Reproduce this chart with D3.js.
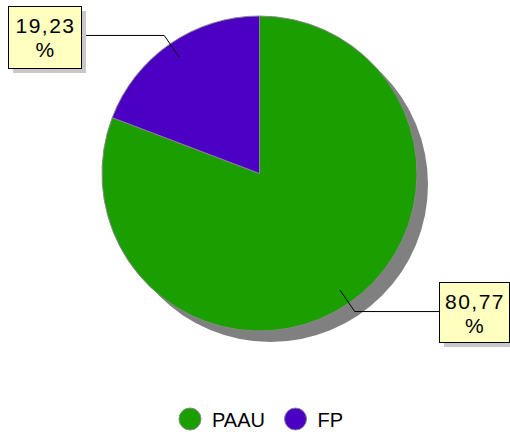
<!DOCTYPE html>
<html>
<head>
<meta charset="utf-8">
<script src="https://cdn.jsdelivr.net/npm/d3@7"></script>
<style>
  body { margin: 0; background: #fff; }
  text { font-family: "Liberation Sans", Arial, sans-serif; fill: #000; }
</style>
</head>
<body>
<script>
// Data
var categories = ["PAAU", "FP"];
var values = [80.77, 19.23];
var labels = ["80,77", "19,23"];
var colors = ["#1a9e00", "#4c00c4"];

// Settings
var w = 510, h = 434;
var cx = 259.5, cy = 173.5, r = 157.5;

var svg = d3.select("body").append("svg")
    .attr("width", w)
    .attr("height", h);

var pie = d3.pie().sort(null).value(function(d) { return d; });
var arcs = pie(values);
// green starts at 12 o'clock clockwise, purple closes the circle
var arc = d3.arc().innerRadius(0).outerRadius(r);

// shadow
svg.append("circle")
    .attr("cx", cx + 11)
    .attr("cy", cy + 11)
    .attr("r", r)
    .attr("fill", "#808080");

var g = svg.append("g").attr("transform", "translate(" + cx + "," + cy + ")");

g.selectAll("path.slice")
    .data(arcs)
    .enter()
    .append("path")
    .attr("class", "slice")
    .attr("d", arc)
    .attr("fill", function(d, i) { return colors[i]; })
    .attr("stroke", "#888")
    .attr("stroke-width", 1);

// labels with leader lines
var boxes = [
  { x: 439, y: 282, w: 70, h: 60 },  // 80,77
  { x: 8, y: 6, w: 73, h: 62 }       // 19,23
];

arcs.forEach(function(d, i) {
  var a = (d.startAngle + d.endAngle) / 2;
  var p0 = [Math.sin(a) * r * 0.9, -Math.cos(a) * r * 0.9];
  var p1 = [Math.sin(a) * r * 1.065, -Math.cos(a) * r * 1.065];
  var b = boxes[i];
  var right = Math.sin(a) > 0;
  var ex = right ? b.x - cx : b.x + b.w - cx;
  g.append("polyline")
      .attr("points", [p0, p1, [ex, p1[1]]].map(function(p) { return p.join(","); }).join(" "))
      .attr("fill", "none")
      .attr("stroke", "#000")
      .attr("stroke-width", 1);

  svg.append("rect")
      .attr("x", b.x + 5).attr("y", b.y + 5)
      .attr("width", b.w).attr("height", b.h)
      .attr("fill", "#c8c8c8");
  svg.append("rect")
      .attr("x", b.x + 0.5).attr("y", b.y + 0.5)
      .attr("width", b.w).attr("height", b.h)
      .attr("fill", "#ffffc0")
      .attr("stroke", "#000")
      .attr("stroke-width", 1);
  var t = svg.append("text")
      .attr("text-anchor", "middle")
      .style("font-size", "21px")
      .style("letter-spacing", "1.5px");
  t.append("tspan").attr("x", b.x + b.w / 2 + 1).attr("y", b.y + 27).text(labels[i]);
  t.append("tspan").attr("x", b.x + b.w / 2 + 1).attr("y", b.y + 51).text("%");
});

// legend
var legendX = [190, 295.5];
var lg = svg.selectAll("g.legend")
    .data(categories)
    .enter()
    .append("g")
    .attr("class", "legend")
    .attr("transform", function(d, i) { return "translate(" + legendX[i] + ",419)"; });

lg.append("circle")
    .attr("r", 11)
    .attr("fill", function(d, i) { return colors[i]; })
    .attr("stroke", "#888")
    .attr("stroke-width", 1);

lg.append("text")
    .attr("x", 22)
    .attr("y", 8)
    .style("font-size", "20px")
    .text(function(d) { return d; });
</script>
</body>
</html>
